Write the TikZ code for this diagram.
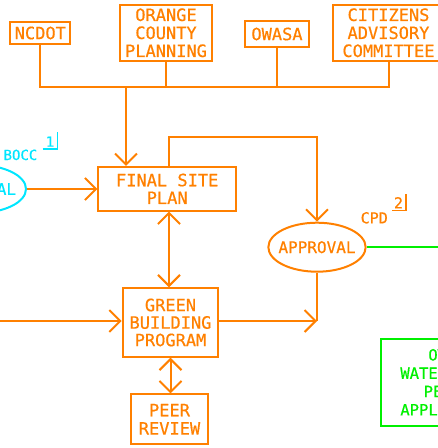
\documentclass[tikz,border=0pt]{standalone}
\usepackage{fontspec}
\newfontfamily\cadfont[FakeBold=0.6]{DejaVu Sans Mono}
\usetikzlibrary{arrows.meta,shapes.geometric}
\definecolor{cadorange}{RGB}{255,128,0}
\definecolor{cadcyan}{RGB}{0,230,255}
\definecolor{cadgreen}{RGB}{0,240,0}
\begin{document}
\begin{tikzpicture}[x=1pt,y=-1pt,
  lineo/.style={draw=cadorange, line width=2pt},
  box/.style={draw=cadorange, line width=2pt, text=cadorange, inner sep=0pt, align=center, font={\cadfont\fontsize{17}{18}\selectfont}},
  gbox/.style={draw=cadgreen, line width=2pt, text=cadgreen, inner sep=0pt, align=center, font={\cadfont\fontsize{15.5}{18.3}\selectfont}},
  orell/.style={ellipse, draw=cadorange, line width=2pt, text=cadorange, inner sep=0pt, minimum width=97.3pt, minimum height=49pt, font={\cadfont\fontsize{16}{18}\selectfont}},
  cyell/.style={ellipse, draw=cadcyan, line width=2pt, text=cadcyan, inner sep=0pt, minimum width=97pt, minimum height=48pt, font={\cadfont\fontsize{16}{18}\selectfont}},
  cylabel/.style={text=cadcyan, inner sep=0pt, font={\cadfont\fontsize{14}{14}\selectfont}},
  orlabel/.style={text=cadorange, inner sep=0pt, font={\cadfont\fontsize{15}{15}\selectfont}},
  arr/.style={lineo, -{Straight Barb[length=11pt,width=22pt]}},
  darr/.style={lineo, {Straight Barb[length=11pt,width=22pt]}-{Straight Barb[length=11pt,width=22pt]}}
]
\useasboundingbox (0,0) rectangle (438,448);
\clip (0,0) rectangle (438,448);

% top boxes
\node[box, minimum width=59.7pt, minimum height=22pt] (ncdot) at (40.3,33) {NCDOT};
\node[box, minimum width=92pt, minimum height=56.3pt] (ocp) at (166,32.8) {ORANGE\\COUNTY\\PLANNING};
\node[box, minimum width=64.3pt, minimum height=26pt] (owasa) at (277,34) {OWASA};
\node[box, minimum width=111pt, minimum height=56.3pt] (cac) at (388.5,32.8) {CITIZENS\\ADVISORY\\COMMITTEE};

% bus
\coordinate (bus) at (0,86.7);
\coordinate (j1) at (126,86.7);
\draw[lineo] (ncdot.south) |- (cac.south |- bus) -- (cac.south);
\draw[lineo] (ocp.south) -- (ocp.south |- bus);
\draw[lineo] (owasa.south) -- (owasa.south |- bus);

% final site plan
\node[box, minimum width=137.7pt, minimum height=43.7pt, font={\cadfont\fontsize{17}{17.7}\selectfont}] (fsp) at (167.2,188.8) {FINAL SITE\\PLAN};
\draw[arr] (j1) -- (j1 |- fsp.north);

% cyan approval (BOCC)
\node[cyell] (bapp) at (-22.5,189) {\makebox[0pt]{APPROVAL}};
\draw[arr] (bapp.east) -- (bapp.east -| fsp.west);
\node[cylabel, anchor=base east] (bocc) at (37.5,160) {BOCC};
\node[cylabel, anchor=base] (rev1) at (50,146.7) {1};
\draw[cadcyan, line width=1.5pt] (42.7,149) -- (57.3,149) -- (57.3,131.7);

% approval (CPD)
\node[orell] (app) at (317,247.2) {\makebox[0pt]{APPROVAL}};
\coordinate (k1) at (169,136.7);
\draw[arr] (k1 |- fsp.north) -- (k1) -| (app.north);
\node[orlabel, anchor=base west] (cpd) at (360.5,223.3) {CPD};
\node[orlabel, anchor=base] (rev2) at (398.5,208.3) {2};
\draw[cadorange, line width=1.5pt] (392,210.7) -- (406,210.7) -- (406,194);
\coordinate (gend) at (438,0);
\draw[cadgreen, line width=2pt] (app.east) -- (app.east -| gend);

% green building program
\node[box, minimum width=95.6pt, minimum height=68.4pt, font={\cadfont\fontsize{17}{17.5}\selectfont}] (gbp) at (170.5,322.5) {GREEN\\BUILDING\\PROGRAM};
\coordinate (lstart) at (0,321);
\draw[arr] (lstart) -- (lstart -| gbp.west);
\coordinate (c169) at (169,0);
\draw[darr] (c169 |- fsp.south) -- (c169 |- gbp.north);
\coordinate (m) at (app.south |- lstart);
\draw[lineo] (app.south) -- (m);
\draw[arr] (gbp.east |- m) -- (m);

% peer review
\node[box, minimum width=76.3pt, minimum height=49.7pt, font={\cadfont\fontsize{17}{18.3}\selectfont}] (peer) at (169.5,419.2) {PEER\\REVIEW};
\coordinate (c170) at (170.5,0);
\draw[darr] (c170 |- gbp.south) -- (c170 |- peer.north);

% green permit box
\node[gbox, minimum width=142pt, minimum height=87.3pt] (owp) at (451.7,382.3) {OWASA\\WATER/SEWER\\PERMIT\\APPLICATION};
\end{tikzpicture}
\end{document}
